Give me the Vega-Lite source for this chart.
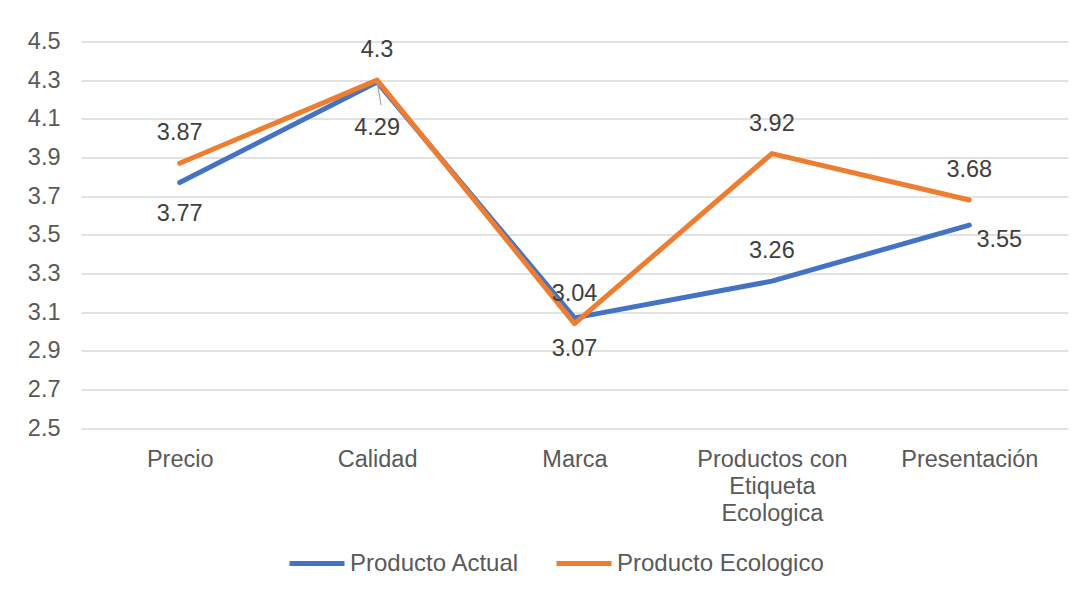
{
  "$schema": "https://vega.github.io/schema/vega-lite/v6.json",
  "autosize": "none",
  "width": 987,
  "height": 386.5,
  "padding": {"left": 81, "top": 41.5, "right": 22, "bottom": 167},
  "background": "#ffffff",
  "config": {
    "font": "Liberation Sans",
    "view": {"stroke": null},
    "axis": {
      "labelFont": "Liberation Sans",
      "labelFontSize": 23.5,
      "labelColor": "#595959",
      "domain": false,
      "ticks": false,
      "title": null
    }
  },
  "data": {
    "values": [
      {"aspecto": "Precio", "serie": "Producto Actual", "valor": 3.77},
      {"aspecto": "Calidad", "serie": "Producto Actual", "valor": 4.29},
      {"aspecto": "Marca", "serie": "Producto Actual", "valor": 3.07},
      {"aspecto": "Productos con Etiqueta Ecologica", "serie": "Producto Actual", "valor": 3.26},
      {"aspecto": "Presentación", "serie": "Producto Actual", "valor": 3.55},
      {"aspecto": "Precio", "serie": "Producto Ecologico", "valor": 3.87},
      {"aspecto": "Calidad", "serie": "Producto Ecologico", "valor": 4.3},
      {"aspecto": "Marca", "serie": "Producto Ecologico", "valor": 3.04},
      {"aspecto": "Productos con Etiqueta Ecologica", "serie": "Producto Ecologico", "valor": 3.92},
      {"aspecto": "Presentación", "serie": "Producto Ecologico", "valor": 3.68}
    ]
  },
  "encoding": {
    "x": {
      "field": "aspecto",
      "type": "nominal",
      "sort": null,
      "scale": {"type": "point", "padding": 0.5},
      "axis": {
        "labelAngle": 0,
        "labelPadding": 19,
        "labelLineHeight": 27,
        "labelBaseline": "top",
        "labelExpr": "datum.value == 'Productos con Etiqueta Ecologica' ? ['Productos con', 'Etiqueta', 'Ecologica'] : datum.value",
        "grid": false
      }
    },
    "y": {
      "field": "valor",
      "type": "quantitative",
      "scale": {"domain": [2.5, 4.5], "nice": false, "zero": false},
      "axis": {
        "values": [2.5, 2.7, 2.9, 3.1, 3.3, 3.5, 3.7, 3.9, 4.1, 4.3, 4.5],
        "format": ".1f",
        "labelPadding": 21,
        "grid": true,
        "gridColor": "#d9d9d9",
        "gridWidth": 1.5
      }
    }
  },
  "layer": [
    {
      "mark": {"type": "line", "strokeWidth": 5, "strokeCap": "round", "strokeJoin": "round"},
      "encoding": {
        "color": {
          "field": "serie",
          "type": "nominal",
          "scale": {"domain": ["Producto Actual", "Producto Ecologico"], "range": ["#4472C4", "#ED7D31"]},
          "legend": {
            "title": null,
            "orient": "none",
            "direction": "horizontal",
            "legendX": 206,
            "legendY": 492,
            "symbolType": "stroke",
            "symbolSize": 3025,
            "symbolStrokeWidth": 5,
            "labelFontSize": 24,
            "labelColor": "#595959",
            "labelOffset": 3,
            "labelLimit": 0,
            "columnPadding": 26
          }
        }
      }
    },
    {
      "transform": [{"filter": "datum.serie == 'Producto Actual' && datum.aspecto == 'Calidad'"}],
      "mark": {"type": "rule", "color": "#a6a6a6", "strokeWidth": 1.2, "x2Offset": 4},
      "encoding": {
        "x2": {"field": "aspecto"},
        "y2": {"datum": 4.17}
      }
    },
    {
      "transform": [{"filter": "datum.serie == 'Producto Ecologico' || datum.aspecto == 'Productos con Etiqueta Ecologica'"}],
      "mark": {"type": "text", "fontSize": 23.5, "color": "#404040", "dy": -30, "baseline": "middle"},
      "encoding": {"text": {"field": "valor", "type": "quantitative"}}
    },
    {
      "transform": [{"filter": "datum.serie == 'Producto Actual' && (datum.aspecto == 'Precio' || datum.aspecto == 'Marca')"}],
      "mark": {"type": "text", "fontSize": 23.5, "color": "#404040", "dy": 31, "baseline": "middle"},
      "encoding": {"text": {"field": "valor", "type": "quantitative"}}
    },
    {
      "transform": [{"filter": "datum.serie == 'Producto Actual' && datum.aspecto == 'Calidad'"}],
      "mark": {"type": "text", "fontSize": 23.5, "color": "#404040", "dy": 46, "baseline": "middle"},
      "encoding": {"text": {"field": "valor", "type": "quantitative"}}
    },
    {
      "transform": [{"filter": "datum.serie == 'Producto Actual' && datum.aspecto == 'Presentación'"}],
      "mark": {"type": "text", "fontSize": 23.5, "color": "#404040", "dx": 30, "dy": 15, "baseline": "middle"},
      "encoding": {"text": {"field": "valor", "type": "quantitative"}}
    }
  ]
}
